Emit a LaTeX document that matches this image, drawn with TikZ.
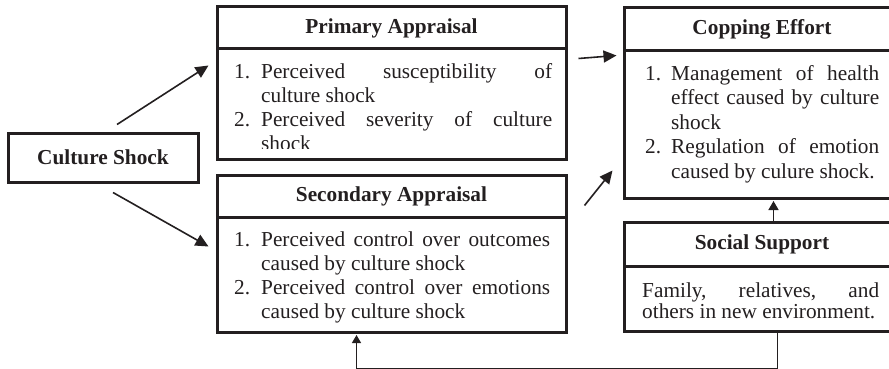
\documentclass[tikz,border=0pt]{standalone}
\usepackage{fontspec}
\setmainfont{Liberation Serif}
\usetikzlibrary{arrows.meta,calc}
\definecolor{ink}{HTML}{231F20}
\newcommand\myitem[3]{\noindent\hangindent=#1\hangafter=1\strut\makebox[#1][l]{#2}#3\par}
\newcommand\justset{\leftskip=0pt\rightskip=0pt\parfillskip=0pt plus 1fil\tolerance=10000\hbadness=10000\relax}
\begin{document}
\begin{tikzpicture}[x=1pt,y=-1pt,
  box/.style={draw=ink, line width=3pt, inner sep=0pt},
  ttl/.style={font=\bfseries\fontsize{21.3}{24}\selectfont, text=ink},
  bodytext/.style={inner sep=0pt, anchor=north west, text=ink, align=justify},
  arr/.style={draw=ink, line width=1.6pt, -{Triangle[length=13pt,width=12pt]}},
  arrs/.style={draw=ink, line width=1.5pt, -{Triangle[length=9pt,width=10pt]}},
  loopline/.style={draw=ink, line width=1.2pt, -{Triangle[length=8pt,width=9pt]}}]
\useasboundingbox (0,0) rectangle (889,369);
\clip (0,0) rectangle (889,369);

% Culture shock
\node[box, ttl, minimum width=190pt, minimum height=49pt] (csh) at (103,157.5) {Culture Shock};

% Primary appraisal
\node[box, ttl, minimum width=349pt, minimum height=42pt] (pah) at (391.5,28) {Primary Appraisal};
\node[box, minimum width=349pt, minimum height=110pt] (pab) at (391.5,104) {};
\begin{scope}
\clip (217,49) rectangle (566,148);
\node[bodytext, text width=318pt] (pat) at (234,62.2) {\fontsize{21.3}{23.7}\selectfont\justset%
\myitem{27pt}{1.}{Perceived susceptibility of\linebreak culture shock}%
\myitem{27pt}{2.}{Perceived severity of culture\linebreak shock}};
\end{scope}

% Secondary appraisal
\node[box, ttl, minimum width=349pt, minimum height=42pt] (sah) at (391.5,196) {Secondary Appraisal};
\node[box, minimum width=349pt, minimum height=115pt] (sab) at (391.5,274.5) {};
\node[bodytext, text width=316pt] (sat) at (234,229.9) {\fontsize{21.3}{24}\selectfont\justset%
\myitem{27pt}{1.}{Perceived control over outcomes\linebreak caused by culture shock}%
\myitem{27pt}{2.}{Perceived control over emotions\linebreak caused by culture shock}};

% Copping effort
\node[box, ttl, minimum width=276pt, minimum height=43pt] (ceh) at (762,29.5) {Copping Effort};
\node[box, minimum width=276pt, minimum height=147pt] (ceb) at (762,124.5) {};
\node[bodytext, text width=234pt] (cet) at (645,62.9) {\fontsize{21.3}{24.5}\selectfont\justset%
\myitem{26pt}{1.}{Management of health\linebreak effect caused by culture\linebreak shock}%
\myitem{26pt}{2.}{Regulation of emotion\linebreak caused by culure shock.}};

% Social support
\node[box, ttl, minimum width=276pt, minimum height=44pt] (ssh) at (762,244) {Social Support};
\node[box, minimum width=276pt, minimum height=65pt] (ssb) at (762,298.5) {};
\node[bodytext, text width=237pt] (sst) at (642,281.9) {\fontsize{21.3}{21.6}\selectfont\justset%
\noindent\strut Family, relatives, and\linebreak others in new environment.\par};

% connectors
\draw[arr] ($(csh.north)+(14,-7)$) -- ($(pab.north west)+(-7,18)$);
\draw[arr] ($(csh.south)+(10,9)$) -- ($(sab.north west)+(-7,31)$);
\draw[arr] ($(pah.south east)+(11,8)$) -- ($(ceb.north west)+(-6,6)$);
\draw[arr] ($(sah.north east)+(17,32)$) -- ($(ceb.south west)+(-10,-29)$);
\draw[arrs] ($(ssh.north west)+(151,0)$) -- ($(ceb.south west)+(151,1.5)$);
\draw[loopline] ($(ssb.south west)+(155,0)$) -- ++(0,36) -| ($(sab.south west)+(141,1.5)$);
\end{tikzpicture}
\end{document}
